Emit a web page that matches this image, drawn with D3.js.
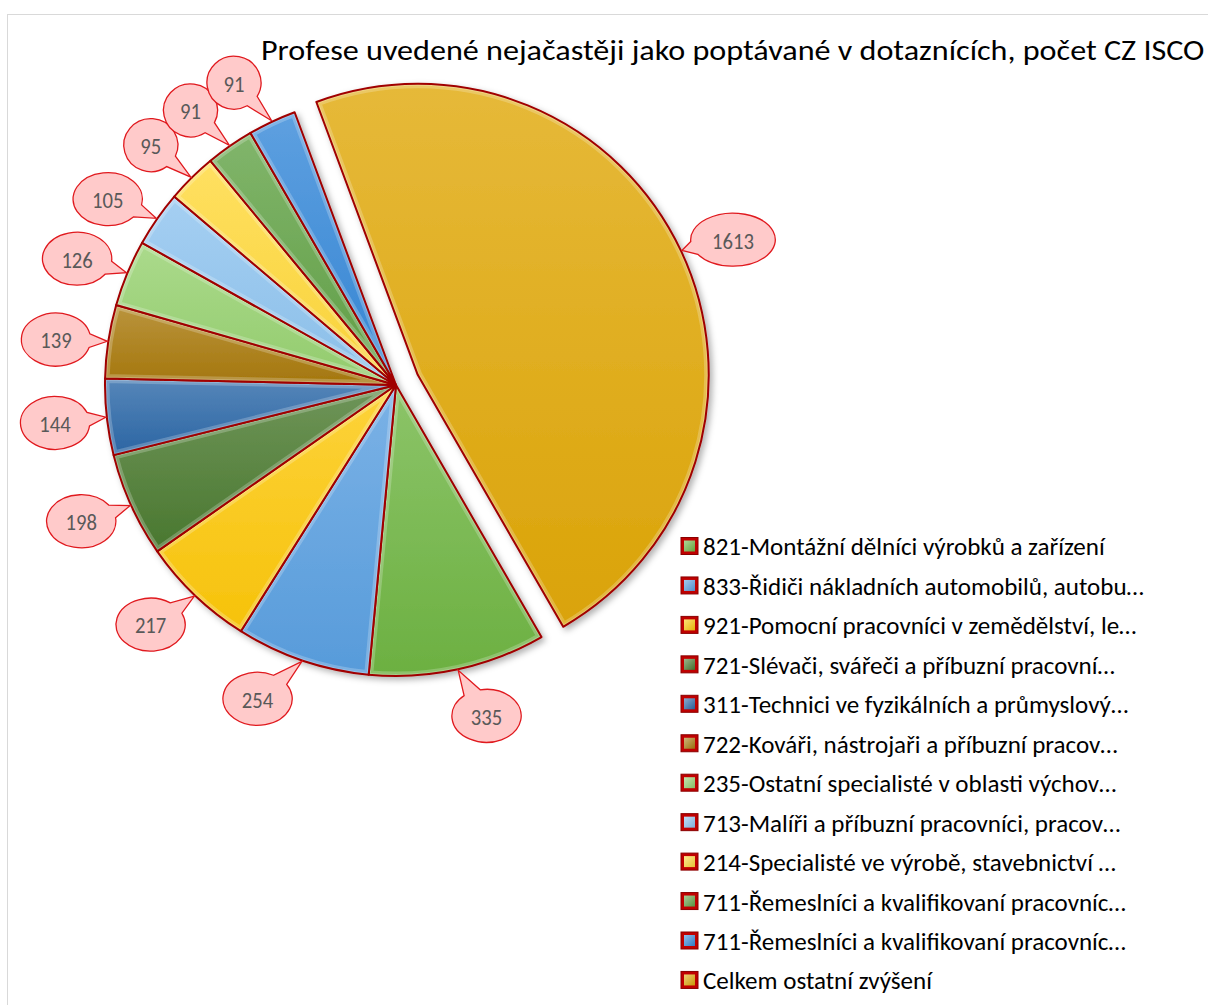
<!DOCTYPE html>
<html>
<head>
<meta charset="utf-8">
<script src="https://cdn.jsdelivr.net/npm/d3@7"></script>
<style>
  html, body { margin: 0; padding: 0; background: #fff; }
  svg { display: block; }
  text { font-family: Carlito, Calibri, Lato, "Open Sans", sans-serif; }
</style>
</head>
<body>
<svg id="chart" width="1208" height="1005"></svg>
<script>
// Occupations most frequently listed as in demand (CZ ISCO counts)
const title = "Profese uvedené nejačastěji jako poptávané v dotaznících, počet CZ ISCO";

const categories = [
  "821-Montážní dělníci výrobků a zařízení",
  "833-Řidiči nákladních automobilů, autobu…",
  "921-Pomocní pracovníci v zemědělství, le…",
  "721-Slévači, svářeči a příbuzní pracovní…",
  "311-Technici ve fyzikálních a průmyslový…",
  "722-Kováři, nástrojaři a příbuzní pracov…",
  "235-Ostatní specialisté v oblasti výchov…",
  "713-Malíři a příbuzní pracovníci, pracov…",
  "214-Specialisté ve výrobě, stavebnictví …",
  "711-Řemeslníci a kvalifikovaní pracovníc…",
  "711-Řemeslníci a kvalifikovaní pracovníc…",
  "Celkem ostatní zvýšení"
];

const values = [335, 254, 217, 198, 144, 139, 126, 105, 95, 91, 91, 1613];

const colors = [
  "#6fb543", "#5a9fe0", "#fdc80a", "#4b7a30", "#2c68a8", "#a9790c",
  "#96d16f", "#8ec3ef", "#ffd83a", "#62a246", "#3688d8", "#e0a808"
];

// small angular shifts (degrees) that keep neighbouring callouts apart
const labelNudgeDeg = [-3, 5, 2, 1, 0, -1, -1, -2, -1, -2, -3, 2];

// the last slice ("Celkem ostatní zvýšení") is pulled out of the pie
const explodedIndex = 11;

const svg = d3.select("#chart");
const W = 1208, H = 1005;

// chart-area frame
svg.append("rect")
  .attr("x", 7.5).attr("y", 14.5)
  .attr("width", W).attr("height", H)
  .attr("fill", "#fff").attr("stroke", "#d9d9d9");

const defs = svg.append("defs");

// soft shadow beneath the pie
const shadow = defs.append("filter").attr("id", "pieShadow")
  .attr("x", "-20%").attr("y", "-20%").attr("width", "140%").attr("height", "140%");
shadow.append("feDropShadow")
  .attr("dx", 3).attr("dy", 3).attr("stdDeviation", 3)
  .attr("flood-color", "#000").attr("flood-opacity", 0.3);

// one vertical gradient per slice colour, plus a diagonal one for legend keys
colors.forEach((c, i) => {
  const base = d3.color(c);
  const g = defs.append("linearGradient").attr("id", "grad" + i)
    .attr("x1", 0).attr("y1", 0).attr("x2", 0).attr("y2", 1);
  g.append("stop").attr("offset", "0%").attr("stop-color", d3.interpolateRgb(base, "#fff")(0.2));
  g.append("stop").attr("offset", "100%").attr("stop-color", base.darker(0.08));
  const lg = defs.append("linearGradient").attr("id", "lgrad" + i)
    .attr("x1", 0).attr("y1", 0).attr("x2", 1).attr("y2", 1);
  lg.append("stop").attr("offset", "0%").attr("stop-color", d3.interpolateRgb(base, "#fff")(0.45));
  lg.append("stop").attr("offset", "100%").attr("stop-color", base.darker(0.3));
});

// pie geometry
const cx = 396, cy = 385, radius = 291, explode = 24;
const startDeg = 150;

const pie = d3.pie()
  .sort(null)
  .value(d => d)
  .startAngle(startDeg * Math.PI / 180)
  .endAngle(startDeg * Math.PI / 180 + 2 * Math.PI);

const arcs = pie(values);
const arc = d3.arc().innerRadius(0).outerRadius(radius);

function sliceOffset(d, i) {
  if (i !== explodedIndex) return [0, 0];
  const m = (d.startAngle + d.endAngle) / 2;
  return [Math.sin(m) * explode, -Math.cos(m) * explode];
}

const pieG = svg.append("g")
  .attr("transform", `translate(${cx},${cy})`)
  .attr("filter", "url(#pieShadow)");

arcs.forEach((d, i) => {
  const [ox, oy] = sliceOffset(d, i);
  const path = arc(d);
  const g = pieG.append("g").attr("transform", `translate(${ox},${oy})`);
  defs.append("clipPath").attr("id", "clip" + i).append("path").attr("d", path);
  g.append("path").attr("d", path).attr("fill", `url(#grad${i})`);
  // bevel highlight along the slice edges
  g.append("path").attr("d", path)
    .attr("clip-path", `url(#clip${i})`)
    .attr("fill", "none")
    .attr("stroke", "#fff").attr("stroke-opacity", 0.22).attr("stroke-width", 9);
  g.append("path").attr("d", path)
    .attr("clip-path", `url(#clip${i})`)
    .attr("fill", "none")
    .attr("stroke", "#fff").attr("stroke-opacity", 0.22).attr("stroke-width", 4);
  g.append("path").attr("d", path)
    .attr("fill", "none")
    .attr("stroke", "#a00000").attr("stroke-width", 2)
    .attr("stroke-linejoin", "round");
});

// value labels are drawn at size, then squeezed slightly horizontally
const squeeze = 0.92;

// callout data labels
const labelG = svg.append("g");
const labelDist = radius + 52;

arcs.forEach((d, i) => {
  const [ox, oy] = sliceOffset(d, i);
  const m = (d.startAngle + d.endAngle) / 2;
  const ml = m + labelNudgeDeg[i] * Math.PI / 180;
  const px = cx + ox, py = cy + oy;
  const tipX = px + Math.sin(m) * (radius + 1);
  const tipY = py - Math.cos(m) * (radius + 1);
  const bx = px + Math.sin(ml) * labelDist;
  const by = py - Math.cos(ml) * labelDist;

  const g = labelG.append("g");
  const t = g.append("text")
    .attr("transform", `translate(${bx},${by + 1}) scale(${squeeze},1)`)
    .attr("text-anchor", "middle")
    .attr("dominant-baseline", "central")
    .attr("font-size", 22.5)
    .attr("fill", "#595959")
    .text(values[i]);
  const tw = t.node().getComputedTextLength() * squeeze;
  const rx = 11.7 + 0.73 * tw, ry = 26.5;

  // ellipse with a wedge pointing at the slice
  const dirA = Math.atan2((tipY - by) / ry, (tipX - bx) / rx);
  const del = 0.26;
  const a1 = dirA + del, a2 = dirA - del;
  const p1 = [bx + rx * Math.cos(a1), by + ry * Math.sin(a1)];
  const p2 = [bx + rx * Math.cos(a2), by + ry * Math.sin(a2)];
  const dPath = `M${p1[0]},${p1[1]} A${rx},${ry} 0 1 1 ${p2[0]},${p2[1]} L${tipX},${tipY} Z`;
  g.insert("path", "text")
    .attr("d", dPath)
    .attr("fill", "#ffcaca")
    .attr("stroke", "#e0191e")
    .attr("stroke-width", 1.3)
    .attr("stroke-linejoin", "miter");
});

// title
const titleText = svg.append("text")
  .attr("font-size", 28)
  .attr("fill", "#000")
  .text(title);
{
  const k = 944 / titleText.node().getComputedTextLength();
  titleText.attr("transform", `translate(261,59.5) scale(${k},1)`);
}

// legend
const legendX = 681, legendY0 = 546, legendStep = 39.45;
const legendG = svg.append("g");
const items = legendG.selectAll("g.item").data(categories).join("g")
  .attr("class", "item")
  .attr("transform", (d, i) => `translate(${legendX},${legendY0 + i * legendStep})`);

items.append("rect")
  .attr("x", 0).attr("y", -8.5).attr("width", 17).attr("height", 17)
  .attr("fill", "#c00000").attr("stroke", "#8a0000").attr("stroke-width", 1);
items.append("rect")
  .attr("x", 3).attr("y", -5.5).attr("width", 11).attr("height", 11)
  .attr("fill", (d, i) => `url(#lgrad${i})`);

const legendTexts = items.append("text")
  .attr("dominant-baseline", "central")
  .attr("font-size", 25)
  .attr("fill", "#000")
  .text(d => d);

// the first (untruncated) entry spans the full legend row width
const legendK = 402 / legendTexts.nodes()[0].getComputedTextLength();
legendTexts.attr("transform", `translate(22,1) scale(${legendK},1)`);
</script>
</body>
</html>
